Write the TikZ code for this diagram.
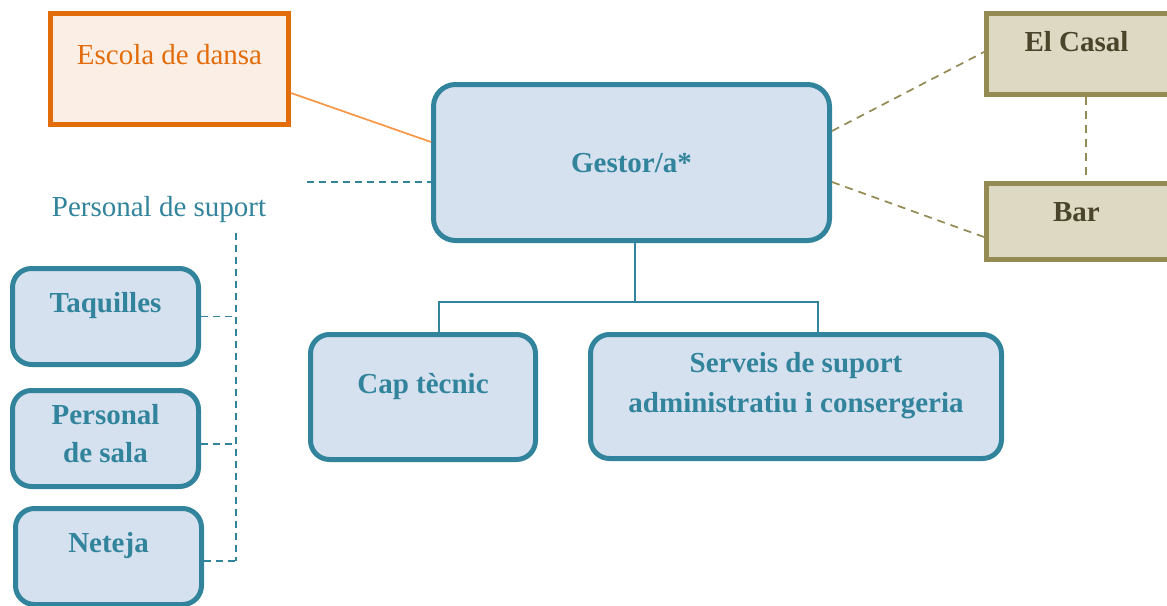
\documentclass[tikz,border=0pt]{standalone}
\usepackage{fontspec}
\setmainfont{Liberation Serif}
\definecolor{teal}{HTML}{31849B}
\definecolor{bluefill}{HTML}{D6E1F0}
\definecolor{orng}{HTML}{E36C0A}
\definecolor{orngline}{HTML}{F79646}
\definecolor{orngfill}{HTML}{FBEEE5}
\definecolor{olive}{HTML}{948A54}
\definecolor{olivefill}{HTML}{DDD9C3}
\definecolor{olivetext}{HTML}{4A452A}
\tikzset{
  bluebox/.style={draw=teal, fill=bluefill, line width=5pt, rounded corners=19pt, inner sep=0pt},
  orangebox/.style={draw=orng, fill=orngfill, line width=5pt, inner sep=0pt},
  olivebox/.style={draw=olive, fill=olivefill, line width=5pt, inner sep=0pt},
  bluetxt/.style={text=teal, font=\fontsize{29}{40}\selectfont\bfseries, align=center},
  olivetxt/.style={text=olivetext, font=\fontsize{29}{40}\selectfont\bfseries, align=center},
  orangetxt/.style={text=orng, font=\fontsize{29}{40}\selectfont, align=center},
  tealdash/.style={draw=teal, line width=1.5pt, dash pattern=on 7pt off 5pt},
  olivedash/.style={draw=olive, line width=1.7pt, dash pattern=on 8pt off 6pt},
  tealline/.style={draw=teal, line width=1.5pt},
}
\begin{document}
\begin{tikzpicture}[x=1pt,y=-1pt]
\useasboundingbox (0,0) rectangle (1167,605);
% boxes
\node[orangebox, minimum width=238pt, minimum height=111pt,
  label={[orangetxt,yshift=14pt]center:Escola de dansa}] (esc) at (169.5,69) {};
\node[bluebox, rounded corners=22pt, minimum width=396pt, minimum height=156pt,
  label={[bluetxt,yshift=-1pt]center:Gestor/a*}] (gest) at (631.5,162.5) {};
\node[olivebox, minimum width=220pt, minimum height=81pt,
  label={[olivetxt,xshift=-20pt,yshift=12pt]center:El Casal}] (casal) at (1096.5,54) {};
\node[olivebox, minimum width=220pt, minimum height=76pt,
  label={[olivetxt,xshift=-20pt,yshift=9.5pt]center:Bar}] (bar) at (1096.5,221.5) {};
\node[text=teal, font=\fontsize{29}{40}\selectfont] (ps) at (159,210) {Personal de suport};
\node[bluebox, minimum width=186pt, minimum height=96pt,
  label={[bluetxt,yshift=10.5pt]center:Taquilles}] (taq) at (105.5,316.5) {};
\node[bluebox, minimum width=186pt, minimum height=96pt,
  label={[bluetxt,yshift=5pt]center:Personal\\[-2pt]de sala}] (sala) at (105.5,438.5) {};
\node[bluebox, minimum width=186pt, minimum height=96pt,
  label={[bluetxt,yshift=10.5pt]center:Neteja}] (net) at (108.5,556.5) {};
\node[bluebox, minimum width=225pt, minimum height=125pt,
  label={[bluetxt,yshift=10pt]center:Cap tècnic}] (cap) at (423,397) {};
\node[bluebox, minimum width=411pt, minimum height=124pt,
  label={[bluetxt,yshift=11pt]center:Serveis de suport\\administratiu i consergeria}] (serv) at (796,396.5) {};
% connectors
\draw[orngline, line width=1.7pt] ([yshift=-24pt]esc.east) -- ([yshift=20.5pt]gest.west);
\coordinate (psend) at (307,182);
\draw[tealdash] (psend) -- ([yshift=-19.5pt]gest.west);
\coordinate (vtop) at (236,233);
\coordinate (vbot) at (236,561);
\draw[tealdash] (vtop) -- (vbot);
\draw[tealdash] (taq.east) -- (taq.east -| vtop);
\coordinate (salaR) at ([yshift=-5.5pt]sala.east);
\draw[tealdash] (salaR) -- (salaR -| vtop);
\coordinate (netR) at ([yshift=-4.5pt]net.east);
\draw[tealdash] (netR) -- (netR -| vtop);
% olive
\draw[olivedash] ([yshift=31.5pt]gest.east) -- ([yshift=2pt]casal.west);
\draw[olivedash] ([yshift=-19.5pt]gest.east) -- ([yshift=-15.5pt]bar.west);
\draw[olivedash] ([xshift=-10.5pt]casal.south) -- ([xshift=-10.5pt]bar.north);
% tree
\coordinate (bus) at (635,302);
\coordinate (gestB) at ([xshift=3.5pt]gest.south);
\coordinate (capT) at ([xshift=16pt]cap.north);
\coordinate (servT) at ([xshift=22pt]serv.north);
\draw[tealline] (gestB) -- (bus);
\draw[tealline] (capT) -- (capT |- bus) -- (servT |- bus) -- (servT);
\end{tikzpicture}
\end{document}
